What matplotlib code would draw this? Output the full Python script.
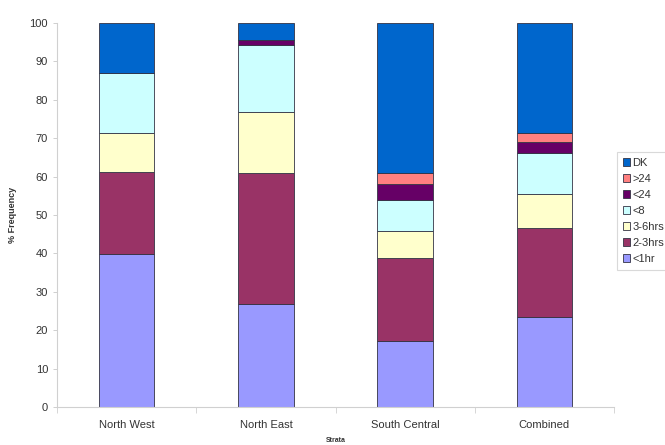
import matplotlib
matplotlib.use("Agg")
import matplotlib.pyplot as plt
import numpy as np

plt.rcParams["font.family"] = ["Liberation Sans", "DejaVu Sans"]

strata = ["North West", "North East", "South Central", "Combined"]
series_names = ["<1hr", "2-3hrs", "3-6hrs", "<8", "<24", ">24", "DK"]
lt1hr = [39.8, 26.8, 17.3, 23.4]
hrs2_3 = [21.5, 34.2, 21.4, 23.1]
hrs3_6 = [10.1, 15.9, 7.2, 9.0]
lt8 = [15.5, 17.4, 8.0, 10.7]
lt24 = [0.0, 1.1, 4.2, 2.9]
gt24 = [0.0, 0.0, 2.9, 2.2]
dk = [13.1, 4.6, 39.0, 28.7]
y_ticks = [0, 10, 20, 30, 40, 50, 60, 70, 80, 90, 100]

series = [lt1hr, hrs2_3, hrs3_6, lt8, lt24, gt24, dk]
colors = ["#9999FF", "#993366", "#FFFFCC", "#CCFFFF", "#660066", "#FF8080", "#0066CC"]

fig = plt.figure(figsize=(6.65, 4.45), dpi=100)
ax = fig.add_axes([57 / 665, 1 - 407.3 / 445, (614 - 57) / 665, (407.3 - 22.7) / 445])

x = np.arange(len(strata))
bottom = np.zeros(len(strata))
handles = []
for name, vals, col in zip(series_names, series, colors):
    vals = np.array(vals)
    b = ax.bar(x, vals, width=0.4, bottom=bottom, color=col,
               edgecolor="#333344", linewidth=0.6, label=name)
    handles.append(b)
    bottom += vals

ax.set_xlim(-0.5, len(strata) - 0.5)
ax.set_ylim(0, 100)
ax.set_yticks(y_ticks)
ax.set_xticks(x)
ax.set_xticklabels(strata)
ax.tick_params(axis="both", labelsize=8, colors="#c8c8c8", labelcolor="#333333", length=3, width=0.6)
ax.tick_params(axis="x", length=0, pad=9)
# category separator ticks on the bottom axis
ax.set_xticks(np.arange(-0.5, len(strata)), minor=True)
ax.tick_params(axis="x", which="minor", length=4, colors="#d0d0d0", width=0.6)

for side in ["top", "right"]:
    ax.spines[side].set_visible(False)
for side in ["left", "bottom"]:
    ax.spines[side].set_color("#d0d0d0")
    ax.spines[side].set_linewidth(0.8)

ax.set_ylabel("% Frequency", fontsize=6.5, fontweight="bold", color="#333333", labelpad=9)
ax.set_xlabel("Strata", fontsize=5, fontweight="bold", color="#333333", labelpad=5)

leg = fig.legend(handles[::-1], series_names[::-1], loc="upper left",
                 bbox_to_anchor=(617 / 665, 1 - 152 / 445), fontsize=8,
                 frameon=True, fancybox=False, borderpad=0.5, labelspacing=0.55,
                 handlelength=0.7, handleheight=0.7, handletextpad=0.2,
                 borderaxespad=0)
leg.get_frame().set_edgecolor("#d0d0d0")
leg.get_frame().set_linewidth(0.8)
for t in leg.get_texts():
    t.set_color("#333333")

fig.savefig("out.png", dpi=100)
